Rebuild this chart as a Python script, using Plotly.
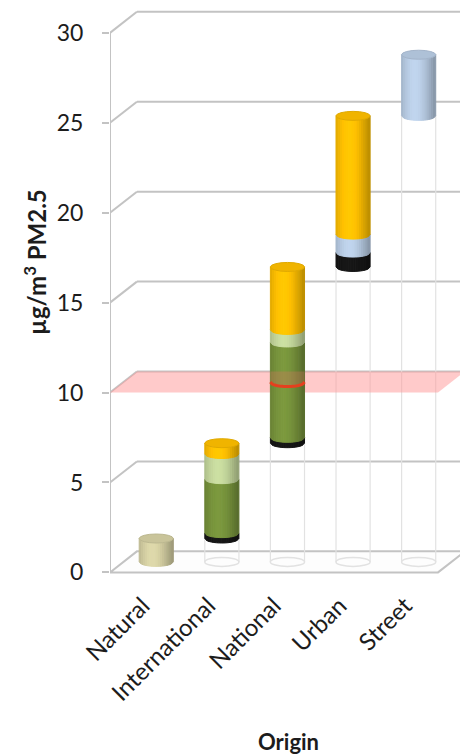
import numpy as np
import plotly.graph_objects as go

# ---- data (µg/m³ PM2.5), stacked contributions per origin, waterfall style ----
categories = ["Natural", "International", "National", "Urban", "Street"]
natural_part = [1.3, 0.0, 0.0, 0.0, 0.0]
black_part = [0.0, 0.3, 0.3, 0.8, 0.0]
dark_green_part = [0.0, 3.0, 5.3, 0.0, 0.0]
light_green_part = [0.0, 1.4, 0.7, 0.0, 0.0]
light_blue_part = [0.0, 0.0, 0.0, 1.0, 3.4]
yellow_part = [0.0, 0.6, 3.5, 6.6, 0.0]
guideline = 10.0
y_ticks = [0, 5, 10, 15, 20, 25, 30]

series = [
    (natural_part, (214, 209, 164)),
    (black_part, (22, 22, 22)),
    (dark_green_part, (119, 147, 60)),
    (light_green_part, (196, 215, 156)),
    (light_blue_part, (185, 205, 229)),
    (yellow_part, (255, 192, 0)),
]

# ---- oblique 3D projection helpers (depth t in 0..1) ----
D_X = 0.41   # horizontal shift of the back wall, category units
D_Y = 1.17   # vertical shift of the back wall, value units
R_X = 0.26   # cylinder radius, category units
E_Y = 0.25   # ellipse half height, value units
MID = 0.5    # cylinders stand at mid depth
X_LEFT = -0.5
X_RIGHT = len(categories) - 0.5

GRID = "#c3c3c3"
GHOST = "#e2e2e2"
TEXT = "#1c1c1c"


def rgb(c, f=1.0):
    r, g, b = (int(max(0, min(255, round(v * f)))) for v in c)
    return f"rgb({r},{g},{b})"


def path_of(points, close=True):
    s = "M " + " L ".join(f"{x:.4f},{y:.4f}" for x, y in points)
    return s + (" Z" if close else "")


shapes = []

# back wall grid lines with their diagonals to the front axis
for v in y_ticks[1:]:
    shapes.append(dict(type="line", x0=X_LEFT, y0=v, x1=X_LEFT + D_X, y1=v + D_Y,
                       line=dict(color=GRID, width=2), layer="below"))
    shapes.append(dict(type="line", x0=X_LEFT + D_X, y0=v + D_Y, x1=X_RIGHT + D_X + 1, y1=v + D_Y,
                       line=dict(color=GRID, width=2), layer="below"))

# floor
floor = [(X_LEFT, 0), (X_RIGHT, 0), (X_RIGHT + D_X, D_Y), (X_LEFT + D_X, D_Y)]
shapes.append(dict(type="path", path=path_of(floor), fillcolor="#fdfdfd",
                   line=dict(color=GRID, width=2), layer="below"))

# front vertical axis line
shapes.append(dict(type="line", x0=X_LEFT, y0=0, x1=X_LEFT, y1=y_ticks[-1],
                   line=dict(color=GRID, width=2), layer="below"))

# waterfall bases
totals = [sum(s[0][i] for s in series) for i in range(len(categories))]
bases = list(np.concatenate([[0.0], np.cumsum(totals)[:-1]]))

yoff = D_Y * MID


def arc(xc, v, xa):
    u = (xa - xc) / R_X
    return v + yoff - E_Y * np.sqrt(max(0.0, 1 - u * u))


# invisible base bars drawn as faint outlines
for i, b in enumerate(bases):
    if b <= 0:
        continue
    xc = i + D_X * MID
    for xe in (xc - R_X, xc + R_X):
        shapes.append(dict(type="line", x0=xe, y0=yoff, x1=xe, y1=b + yoff,
                           line=dict(color=GHOST, width=1.2), layer="below"))
    shapes.append(dict(type="circle", x0=xc - R_X, x1=xc + R_X, y0=yoff - E_Y, y1=yoff + E_Y,
                       line=dict(color=GHOST, width=1.5), layer="below"))

# guideline plane
plane = [(X_LEFT, guideline), (X_RIGHT, guideline),
         (X_RIGHT + D_X, guideline + D_Y), (X_LEFT + D_X, guideline + D_Y)]
shapes.append(dict(type="path", path=path_of(plane), fillcolor="rgba(255,150,150,0.5)",
                   line=dict(width=0), layer="below"))


def shade(u):
    return 0.80 + 0.24 * np.cos((u + 0.2) * np.pi / 2)


def cylinder(xc, lo, hi, color, top=False, n=16):
    xs = np.linspace(xc - R_X, xc + R_X, n + 1)
    for a, b in zip(xs[:-1], xs[1:]):
        u = ((a + b) / 2 - xc) / R_X
        col = rgb(color, shade(u))
        pts = [(a, arc(xc, lo, a)), (b, arc(xc, lo, b)),
               (b, arc(xc, hi, b)), (a, arc(xc, hi, a))]
        shapes.append(dict(type="path", path=path_of(pts), fillcolor=col,
                           line=dict(color=col, width=1)))
    if top:
        shapes.append(dict(type="circle", x0=xc - R_X, x1=xc + R_X,
                           y0=hi + yoff - E_Y, y1=hi + yoff + E_Y,
                           fillcolor=rgb(color, 0.94), line=dict(color=rgb(color, 0.88), width=1)))


for i, base in enumerate(bases):
    xc = i + D_X * MID
    level = base
    parts = [(s[0][i], s[1]) for s in series if s[0][i] > 0]
    for k, (val, col) in enumerate(parts):
        cylinder(xc, level, level + val, col, top=(k == len(parts) - 1))
        level += val
    # where the guideline plane cuts through a column
    if base < guideline < level:
        xs = np.linspace(xc - R_X, xc + R_X, 24)
        low = [(x, arc(xc, guideline, x)) for x in xs]
        tint = low + [(xc + R_X, guideline + D_Y), (xc - R_X, guideline + D_Y)]
        shapes.append(dict(type="path", path=path_of(tint), fillcolor="rgba(235,110,100,0.28)",
                           line=dict(width=0)))
        shapes.append(dict(type="path", path=path_of(low, close=False),
                           line=dict(color="#e5401e", width=3)))

fig = go.Figure()
fig.add_trace(go.Scatter(x=[0], y=[0], mode="markers", marker=dict(opacity=0),
                         showlegend=False, hoverinfo="skip"))

FONT = "Lato"
fig.update_layout(
    width=460, height=755,
    margin=dict(l=110, r=0, t=5, b=179),
    paper_bgcolor="white", plot_bgcolor="white",
    showlegend=False,
    shapes=shapes,
    font=dict(family=FONT, color=TEXT),
    xaxis=dict(range=[X_LEFT, 4.835], tickvals=list(range(len(categories))), ticktext=categories,
               tickangle=-45, showgrid=False, zeroline=False, showline=False, ticks="",
               ticklabelstandoff=10,
               tickfont=dict(size=24, family=FONT, color=TEXT)),
    yaxis=dict(range=[-0.2, 31.55], tickvals=y_ticks, showgrid=False, zeroline=False,
               showline=False, ticks="outside", ticklen=7, tickwidth=2, tickcolor=GRID,
               ticklabelstandoff=14, tickfont=dict(size=23, family=FONT, color=TEXT)),
    annotations=[
        dict(text="<b>µg/m<sup>3</sup> PM2.5</b>", textangle=-90, xref="paper", yref="paper",
             x=(35 - 110) / 350, y=0.55, xanchor="center", yanchor="middle", showarrow=False,
             font=dict(size=24, family=FONT, color=TEXT)),
        dict(text="<b>Origin</b>", xref="paper", yref="paper", x=0.511, y=-0.289,
             xanchor="center", yanchor="middle", showarrow=False,
             font=dict(size=22, family=FONT, color=TEXT)),
    ],
)

fig.write_html("out.html")
